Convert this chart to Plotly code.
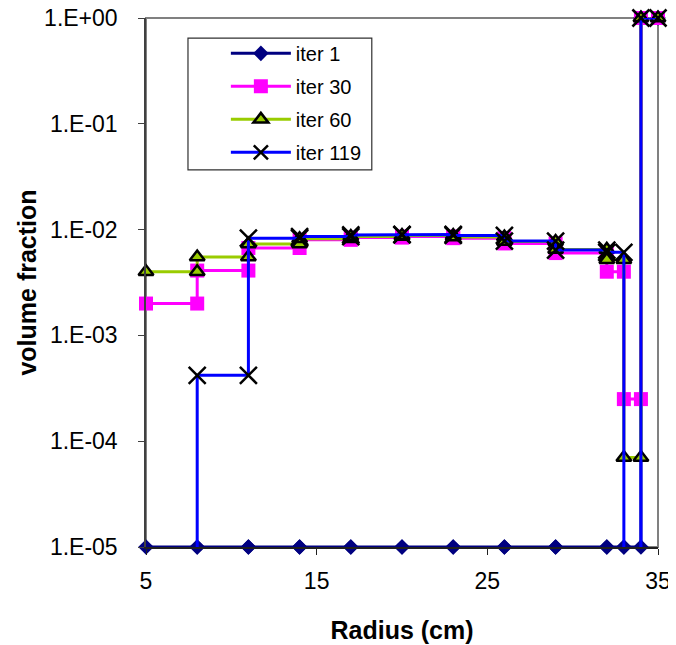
import plotly.graph_objects as go

# cell boundaries (cm); each cell is drawn as a flat step between its edges
cell_edges = [5, 8, 11, 14, 17, 20, 23, 26, 29, 32, 33, 34, 35]

# volume fraction per cell (values below 1e-5 fall below the axis)
iter1 = [1e-5, 1e-5, 1e-5, 1e-5, 1e-5, 1e-5, 1e-5, 1e-5, 1e-5, 1e-5, 1e-5, 1.0]
iter30 = [2.0e-3, 4.1e-3, 6.7e-3, 8.0e-3, 8.4e-3, 8.6e-3, 8.3e-3, 7.4e-3, 6.0e-3, 4.0e-3, 2.5e-4, 1.0]
iter60 = [4.0e-3, 5.5e-3, 7.3e-3, 8.2e-3, 8.6e-3, 8.8e-3, 8.5e-3, 7.7e-3, 6.5e-3, 5.2e-3, 7.0e-5, 1.0]
iter119 = [1e-8, 4.2e-4, 8.3e-3, 8.6e-3, 8.9e-3, 9.0e-3, 8.8e-3, 7.8e-3, 6.4e-3, 6.1e-3, 1e-8, 1.0]

series_names = ["iter 1", "iter 30", "iter 60", "iter 119"]

x_ticks = [5, 15, 25, 35]
y_tickvals = [1e-5, 1e-4, 1e-3, 1e-2, 1e-1, 1.0]
y_ticktext = ["1.E-05", "1.E-04", "1.E-03", "1.E-02", "1.E-01", "1.E+00"]


def steps(values):
    xs, ys = [], []
    for i, v in enumerate(values):
        xs += [cell_edges[i], cell_edges[i + 1]]
        ys += [v, v]
    return xs, ys


FONT = "Liberation Sans, Arial, sans-serif"

styles = [
    dict(line=dict(color="#000080", width=3),
         marker=dict(symbol="diamond", size=12, color="#000080",
                     line=dict(width=0))),
    dict(line=dict(color="#FF00FF", width=3),
         marker=dict(symbol="square", size=14, color="#FF00FF",
                     line=dict(width=0))),
    dict(line=dict(color="#99CC00", width=3),
         marker=dict(symbol="triangle-up", size=13, color="#99CC00",
                     line=dict(color="black", width=2.5))),
    dict(line=dict(color="#0000FF", width=3),
         marker=dict(symbol="x-thin", size=17, color="black",
                     line=dict(color="black", width=2.5))),
]

fig = go.Figure()
for name, vals, st in zip(series_names, [iter1, iter30, iter60, iter119], styles):
    xs, ys = steps(vals)
    mk = dict(st["marker"])
    mk["size"] = [mk["size"] if y >= 1e-5 else 0 for y in ys]
    mk["opacity"] = 1
    fig.add_trace(go.Scatter(
        x=xs, y=ys, mode="lines+markers", name=name, legendgroup=name,
        line=st["line"], marker=mk, cliponaxis=False,
    ))

# the page body has an 8px margin, so the figure is 8px smaller each way
fig.update_layout(
    width=668, height=637,
    margin=dict(l=138, r=18, t=10, b=98, autoexpand=False),
    paper_bgcolor="white", plot_bgcolor="white",
    font=dict(family=FONT, color="black", size=22),
    showlegend=True,
    legend=dict(
        x=0.156, y=0.970, xanchor="left", yanchor="top",
        bgcolor="rgba(0,0,0,0)", borderwidth=0,
        font=dict(family=FONT, size=20, color="black"),
        tracegroupgap=4, itemwidth=60,
    ),
    shapes=[
        dict(type="rect", xref="paper", yref="paper", x0=0, y0=0, x1=1, y1=1,
             line=dict(color="#808080", width=2), layer="below"),
        dict(type="rect", xref="paper", yref="paper", x0=0.082, y0=0.713,
             x1=0.441, y1=0.962, line=dict(color="#303030", width=1.2),
             fillcolor="white", layer="above"),
    ],
)

fig.update_xaxes(
    range=[5, 35], tickvals=x_ticks, ticktext=[str(t) for t in x_ticks],
    showgrid=False, zeroline=False, automargin=False,
    showline=True, linecolor="#202020", linewidth=1.5,
    ticks="outside", ticklen=6, tickcolor="#202020",
    ticklabelstandoff=7, ticklabeloverflow="allow",
    tickfont=dict(size=23),
    title=dict(text="<b>Radius (cm)</b>", font=dict(size=25), standoff=28),
)
fig.update_yaxes(
    type="log", range=[-5, 0], tickvals=y_tickvals, ticktext=y_ticktext,
    showgrid=False, zeroline=False, automargin=False,
    showline=True, linecolor="#404040", linewidth=1.5,
    ticks="outside", ticklen=6, tickcolor="#404040",
    ticklabelstandoff=16, ticklabeloverflow="allow",
    tickfont=dict(size=23),
    title=dict(text="<b>volume fraction</b>", font=dict(size=25), standoff=0),
)

fig.write_html("out.html")
